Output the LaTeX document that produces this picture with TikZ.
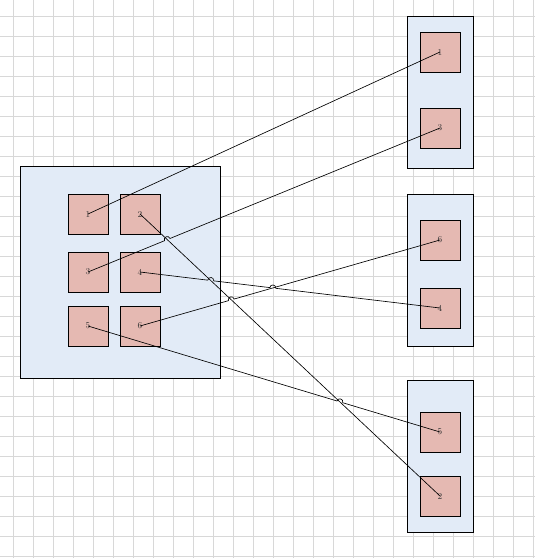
\documentclass[tikz,border=0pt]{standalone}
\usetikzlibrary{calc}
\definecolor{gridc}{RGB}{216,216,216}
\definecolor{contfill}{RGB}{226,235,247}
\definecolor{itemfill}{RGB}{229,185,178}
\tikzset{
  container/.style={draw=black, fill=contfill, line width=0.9pt, inner sep=0pt, outer sep=0pt},
  item/.style={draw=black, fill=itemfill, line width=0.9pt, minimum width=40pt, minimum height=40pt,
    inner sep=0pt, outer sep=0pt, font=\fontsize{9}{10}\selectfont, text=black!80},
  link/.style={draw=black, line width=0.65pt},
  gridline/.style={draw=gridc, line width=0.6pt},
  hop/.style n args={3}{insert path={-- ($(#3)!3pt!(#1)$) .. controls ($(#3)!3pt!(#1)!4pt!90:(#2)$) and ($(#3)!3pt!(#2)!4pt!-90:(#1)$) .. ($(#3)!3pt!(#2)$)}},
}
\begin{document}
\begin{tikzpicture}[x=1pt,y=-1pt]
\useasboundingbox (0,0) rectangle (535,558);
\fill[white] (0,0) rectangle (535,558);
\foreach \i in {0,...,26} \draw[gridline] (13+20*\i,0) -- (13+20*\i,558);
\foreach \j in {0,...,27} \draw[gridline] (0,16+20*\j) -- (535,16+20*\j);

% containers
\node[container, minimum width=200pt, minimum height=212pt] (left) at (120,272) {};
\node[container, minimum width=66pt, minimum height=152pt] (rtop) at (440,92) {};
\node[container, minimum width=66pt, minimum height=152pt] (rmid) at (440,270) {};
\node[container, minimum width=66pt, minimum height=152pt] (rbot) at (440,456) {};

% source items
\node[item] (s1) at (88,214) {1};
\node[item] (s2) at (140,214) {2};
\node[item] (s3) at (88,272) {3};
\node[item] (s4) at (140,272) {4};
\node[item] (s5) at (88,326) {5};
\node[item] (s6) at (140,326) {6};

% target items
\node[item] (t1) at (440,52) {1};
\node[item] (t3) at (440,128) {3};
\node[item] (t6) at (440,240) {6};
\node[item] (t4) at (440,308) {4};
\node[item] (t5) at (440,432) {5};
\node[item] (t2) at (440,496) {2};

% crossing points
\coordinate (x23) at (intersection of s2.center--t2.center and s3.center--t3.center);
\coordinate (x24) at (intersection of s2.center--t2.center and s4.center--t4.center);
\coordinate (x26) at (intersection of s2.center--t2.center and s6.center--t6.center);
\coordinate (x25) at (intersection of s2.center--t2.center and s5.center--t5.center);
\coordinate (x46) at (intersection of s4.center--t4.center and s6.center--t6.center);

% connectors
\draw[link] (s1.center) -- (t1.center);
\draw[link] (s2.center) -- (t2.center);
\draw[link] (s3.center) [hop={s3.center}{t3.center}{x23}] -- (t3.center);
\draw[link] (s6.center) [hop={s6.center}{t6.center}{x26}] -- (t6.center);
\draw[link] (s4.center) [hop={s4.center}{t4.center}{x24}] [hop={s4.center}{t4.center}{x46}] -- (t4.center);
\draw[link] (s5.center) [hop={s5.center}{t5.center}{x25}] -- (t5.center);
\end{tikzpicture}
\end{document}
